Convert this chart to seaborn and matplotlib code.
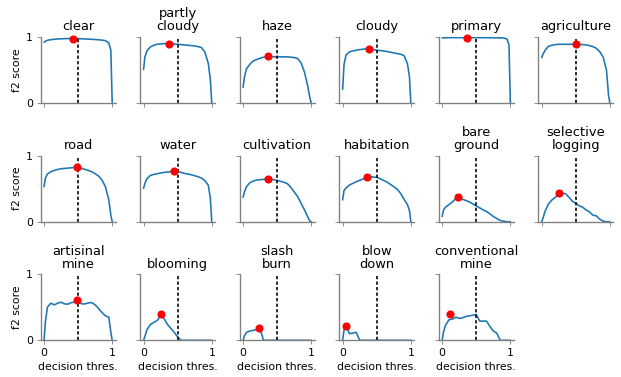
import numpy as np
import pandas as pd
import seaborn as sns
import matplotlib.pyplot as plt

# ------------------------------------------------------------------
# data
# ------------------------------------------------------------------
labels = ["clear", "partly\ncloudy", "haze", "cloudy", "primary", "agriculture",
          "road", "water", "cultivation", "habitation", "bare\nground", "selective\nlogging",
          "artisinal\nmine", "blooming", "slash\nburn", "blow\ndown", "conventional\nmine"]

thresholds = [0.0, 0.02, 0.05, 0.1, 0.15, 0.2, 0.25, 0.3, 0.35, 0.4, 0.45, 0.5,
              0.55, 0.6, 0.65, 0.7, 0.75, 0.8, 0.85, 0.9, 0.95, 0.98, 1.0]

f2_clear = [0.92, 0.935, 0.95, 0.96, 0.965, 0.97, 0.972, 0.975, 0.976, 0.977, 0.976, 0.975,
            0.973, 0.97, 0.968, 0.965, 0.962, 0.958, 0.952, 0.945, 0.91, 0.8, 0.0]
f2_partly_cloudy = [0.51, 0.70, 0.79, 0.85, 0.875, 0.89, 0.895, 0.90, 0.90, 0.898, 0.893, 0.89,
                    0.885, 0.88, 0.875, 0.87, 0.865, 0.855, 0.84, 0.77, 0.60, 0.35, 0.0]
f2_haze = [0.24, 0.40, 0.52, 0.59, 0.64, 0.66, 0.68, 0.695, 0.705, 0.705, 0.70, 0.70,
           0.70, 0.70, 0.70, 0.695, 0.69, 0.675, 0.61, 0.47, 0.25, 0.08, 0.0]
f2_cloudy = [0.21, 0.58, 0.73, 0.775, 0.79, 0.80, 0.81, 0.815, 0.82, 0.82, 0.81, 0.80,
             0.795, 0.79, 0.78, 0.77, 0.76, 0.75, 0.74, 0.72, 0.60, 0.40, 0.0]
f2_primary = [0.985, 0.987, 0.988, 0.989, 0.99, 0.99, 0.99, 0.99, 0.99, 0.99, 0.99, 0.99,
              0.99, 0.99, 0.989, 0.989, 0.988, 0.988, 0.987, 0.985, 0.97, 0.88, 0.0]
f2_agriculture = [0.69, 0.74, 0.80, 0.86, 0.875, 0.885, 0.89, 0.89, 0.89, 0.89, 0.89, 0.89,
                  0.888, 0.885, 0.88, 0.87, 0.855, 0.83, 0.78, 0.70, 0.50, 0.12, 0.0]
f2_road = [0.53, 0.66, 0.72, 0.755, 0.775, 0.79, 0.80, 0.805, 0.81, 0.815, 0.82, 0.82,
           0.805, 0.79, 0.775, 0.755, 0.725, 0.69, 0.63, 0.53, 0.33, 0.10, 0.0]
f2_water = [0.505, 0.58, 0.65, 0.70, 0.715, 0.725, 0.735, 0.745, 0.75, 0.755, 0.76, 0.755,
            0.745, 0.73, 0.72, 0.71, 0.695, 0.68, 0.66, 0.62, 0.55, 0.35, 0.0]
f2_cultivation = [0.37, 0.45, 0.53, 0.59, 0.615, 0.63, 0.635, 0.64, 0.65, 0.645, 0.635, 0.625,
                  0.61, 0.595, 0.575, 0.52, 0.45, 0.38, 0.28, 0.18, 0.07, 0.01, 0.0]
f2_habitation = [0.33, 0.47, 0.51, 0.555, 0.58, 0.605, 0.625, 0.645, 0.675, 0.68, 0.675, 0.67,
                 0.65, 0.625, 0.60, 0.565, 0.53, 0.49, 0.43, 0.34, 0.26, 0.17, 0.0]
f2_bare_ground = [0.08, 0.18, 0.22, 0.26, 0.30, 0.35, 0.365, 0.34, 0.32, 0.30, 0.27, 0.24,
                  0.21, 0.18, 0.155, 0.12, 0.08, 0.05, 0.02, 0.01, 0.0, 0.0, 0.0]
f2_selective_logging = [0.0, 0.06, 0.16, 0.27, 0.33, 0.37, 0.42, 0.43, 0.425, 0.37, 0.31, 0.28,
                        0.24, 0.22, 0.18, 0.15, 0.10, 0.09, 0.04, 0.01, 0.0, 0.0, 0.0]
f2_artisinal_mine = [0.0, 0.28, 0.50, 0.56, 0.535, 0.56, 0.575, 0.55, 0.545, 0.57, 0.575, 0.60,
                     0.55, 0.55, 0.565, 0.57, 0.535, 0.48, 0.42, 0.37, 0.35, 0.12, 0.0]
f2_blooming = [0.0, 0.06, 0.16, 0.24, 0.27, 0.30, 0.37, 0.33, 0.24, 0.18, 0.12, 0.05,
               0.0, 0.0, 0.0, 0.0, 0.0, 0.0, 0.0, 0.0, 0.0, 0.0, 0.0]
f2_slash_burn = [0.0, 0.07, 0.12, 0.14, 0.15, 0.16, 0.17, 0.0, 0.0, 0.0, 0.0, 0.0,
                 0.0, 0.0, 0.0, 0.0, 0.0, 0.0, 0.0, 0.0, 0.0, 0.0, 0.0]
f2_blow_down = [0.0, 0.15, 0.22, 0.10, 0.11, 0.12, 0.0, 0.0, 0.0, 0.0, 0.0, 0.0,
                0.0, 0.0, 0.0, 0.0, 0.0, 0.0, 0.0, 0.0, 0.0, 0.0, 0.0]
f2_conventional_mine = [0.0, 0.13, 0.23, 0.31, 0.32, 0.35, 0.33, 0.34, 0.36, 0.37, 0.38, 0.39,
                        0.29, 0.29, 0.29, 0.21, 0.14, 0.11, 0.0, 0.0, 0.0, 0.0, 0.0]

# best threshold / best f2 per label (red dots)
best_thresh = [0.42, 0.37, 0.36, 0.38, 0.36, 0.50,
               0.48, 0.45, 0.36, 0.36, 0.23, 0.26,
               0.48, 0.26, 0.23, 0.05, 0.12]
best_f2 = [0.977, 0.90, 0.71, 0.82, 0.99, 0.89,
           0.82, 0.76, 0.65, 0.68, 0.37, 0.43,
           0.61, 0.39, 0.19, 0.22, 0.39]

curves = [f2_clear, f2_partly_cloudy, f2_haze, f2_cloudy, f2_primary, f2_agriculture,
          f2_road, f2_water, f2_cultivation, f2_habitation, f2_bare_ground, f2_selective_logging,
          f2_artisinal_mine, f2_blooming, f2_slash_burn, f2_blow_down, f2_conventional_mine]

df = pd.concat([pd.DataFrame({"threshold": thresholds, "f2": c, "label": lab})
                for lab, c in zip(labels, curves)], ignore_index=True)

# ------------------------------------------------------------------
# plot
# ------------------------------------------------------------------
sns.set_style("ticks")
plt.rcParams.update({
    "axes.edgecolor": "0.5",
    "axes.linewidth": 1.25,
    "xtick.color": "0.5",
    "ytick.color": "0.5",
    "xtick.labelcolor": "black",
    "ytick.labelcolor": "black",
    "text.color": "black",
    "axes.labelcolor": "black",
    "xtick.major.size": 3.5,
    "ytick.major.size": 3.5,
    "font.size": 10,
    "axes.titlesize": 12,
    "axes.labelsize": 10,
    "xtick.labelsize": 10,
    "ytick.labelsize": 10,
})

dpi = 78
fig, axes = plt.subplots(3, 6, figsize=(621 / dpi, 377 / dpi), dpi=dpi,
                         sharex=True, sharey=True)
plt.subplots_adjust(left=0.0654, right=0.9876, top=0.9019, bottom=0.0973,
                    wspace=0.327, hspace=0.789)

for i, lab in enumerate(labels):
    ax = axes.flat[i]
    sns.lineplot(data=df[df["label"] == lab], x="threshold", y="f2",
                 ax=ax, color="#1f77b4", linewidth=1.5)
    ax.axvline(0.5, color="black", linestyle=(0, (2, 1.4)), linewidth=1.5)
    ax.plot(best_thresh[i], best_f2[i], "o", color="red", markersize=6.5,
            clip_on=False, zorder=5)
    ax.set_title(lab, linespacing=1.0)
    ax.set_xlabel("")
    ax.set_ylabel("")
    sns.despine(ax=ax)

axes[2, 5].remove()

axes[0, 0].set_ylim(0, 1)
axes[0, 0].set_yticks([0, 1])
axes[0, 0].set_xticks([0, 1])

for r in range(3):
    axes[r, 0].set_ylabel("f2 score")
for c in range(5):
    axes[2, c].set_xlabel("decision thres.")
axes[1, 5].set_xlabel("decision thres.")

plt.savefig("out.png", dpi=dpi)
print("Saved out.png")
